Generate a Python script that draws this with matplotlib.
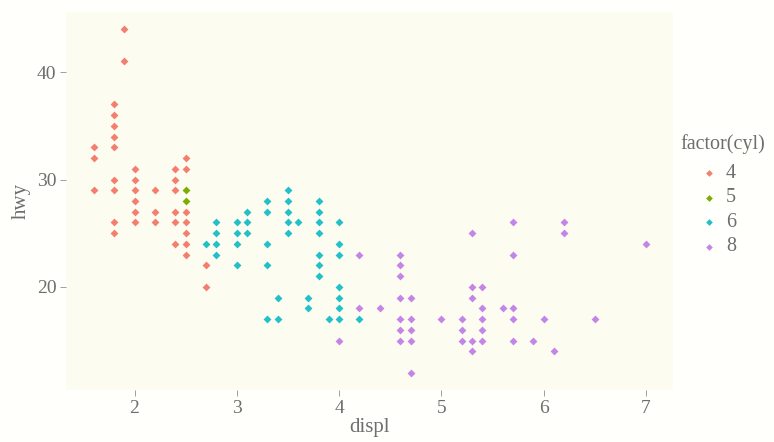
import matplotlib
matplotlib.use('Agg')
import matplotlib.pyplot as plt
from matplotlib.lines import Line2D

# displ / hwy pairs for each cylinder count (distinct points only)
displ_4 = [1.6, 1.6, 1.6, 1.8, 1.8, 1.8, 1.8, 1.8, 1.8, 1.8, 1.8, 1.8, 1.9, 1.9,
           2.0, 2.0, 2.0, 2.0, 2.0, 2.0, 2.2, 2.2, 2.2,
           2.4, 2.4, 2.4, 2.4, 2.4, 2.4,
           2.5, 2.5, 2.5, 2.5, 2.5, 2.5, 2.5, 2.7, 2.7]
hwy_4 = [33, 32, 29, 37, 36, 35, 34, 33, 30, 29, 26, 25, 44, 41,
         31, 30, 29, 28, 27, 26, 29, 27, 26,
         31, 30, 29, 27, 26, 24,
         32, 31, 27, 26, 25, 24, 23, 22, 20]

displ_5 = [2.5, 2.5]
hwy_5 = [29, 28]

displ_6 = [2.7, 2.8, 2.8, 2.8, 2.8, 3.0, 3.0, 3.0, 3.0, 3.1, 3.1, 3.1,
           3.3, 3.3, 3.3, 3.3, 3.3, 3.4, 3.4,
           3.5, 3.5, 3.5, 3.5, 3.5, 3.6, 3.7, 3.7,
           3.8, 3.8, 3.8, 3.8, 3.8, 3.8, 3.8, 3.9,
           4.0, 4.0, 4.0, 4.0, 4.0, 4.0, 4.0, 4.2]
hwy_6 = [24, 26, 25, 24, 23, 26, 25, 24, 22, 27, 26, 25,
         28, 27, 24, 22, 17, 19, 17,
         29, 28, 27, 26, 25, 26, 19, 18,
         28, 27, 26, 25, 23, 22, 21, 17,
         26, 24, 23, 20, 19, 18, 17, 17]

displ_8 = [4.0, 4.2, 4.2, 4.4,
           4.6, 4.6, 4.6, 4.6, 4.6, 4.6, 4.6,
           4.7, 4.7, 4.7, 4.7, 4.7, 5.0, 5.2, 5.2, 5.2,
           5.3, 5.3, 5.3, 5.3, 5.3, 5.4, 5.4, 5.4, 5.4, 5.4, 5.6,
           5.7, 5.7, 5.7, 5.7, 5.7, 5.9, 6.0, 6.1, 6.2, 6.2, 6.5, 7.0]
hwy_8 = [15, 23, 18, 18,
         23, 22, 21, 19, 17, 16, 15,
         19, 17, 16, 15, 12, 17, 17, 16, 15,
         25, 20, 19, 15, 14, 20, 18, 17, 16, 15, 18,
         26, 23, 18, 17, 15, 15, 17, 14, 26, 25, 17, 24]

groups = ['4', '5', '6', '8']
colors = ['#F3806F', '#7CAE00', '#22C0C8', '#C485E8']
xs = [displ_4, displ_5, displ_6, displ_8]
ys = [hwy_4, hwy_5, hwy_6, hwy_8]

text_col = '#6e6e6e'
plt.rcParams['font.family'] = ['Liberation Serif', 'DejaVu Serif']

W, H = 774, 442
fig = plt.figure(figsize=(W / 100, H / 100), dpi=100)
fig.patch.set_facecolor('#fffffb')
ax = fig.add_axes([0.0853, 0.1176, 0.7847, 0.8553])
ax.set_facecolor('#fdfcf0')

for g, c, x, y in zip(groups, colors, xs, ys):
    ax.scatter(x, y, marker='D', s=16, color=c, linewidths=0, label=g)

ax.set_xlim(1.33, 7.27)
ax.set_ylim(10.4, 45.6)
ax.set_xticks([2, 3, 4, 5, 6, 7])
ax.set_yticks([20, 30, 40])
for s in ax.spines.values():
    s.set_visible(False)
ax.tick_params(colors='#a0a0a0', labelcolor=text_col, labelsize=14,
               length=4, width=0.7, pad=3)
ax.set_xlabel('displ', fontsize=15, color=text_col, labelpad=1)
ax.set_ylabel('hwy', fontsize=15, color=text_col, labelpad=4)

# legend laid out by hand (pixel positions -> figure fractions)
fig.text(680 / W, 1 - 144 / H, 'factor(cyl)', fontsize=14.5, color=text_col,
         ha='left', va='center')
for i, (g, c) in enumerate(zip(groups, colors)):
    yy = 1 - (173 + 24.6 * i) / H
    fig.add_artist(Line2D([709 / W], [yy], marker='D', markersize=3.4,
                          color=c, markeredgewidth=0,
                          transform=fig.transFigure))
    fig.text(726 / W, yy, g, fontsize=14.5, color=text_col,
             ha='left', va='center')

fig.savefig('out.png', dpi=100, facecolor=fig.get_facecolor())
